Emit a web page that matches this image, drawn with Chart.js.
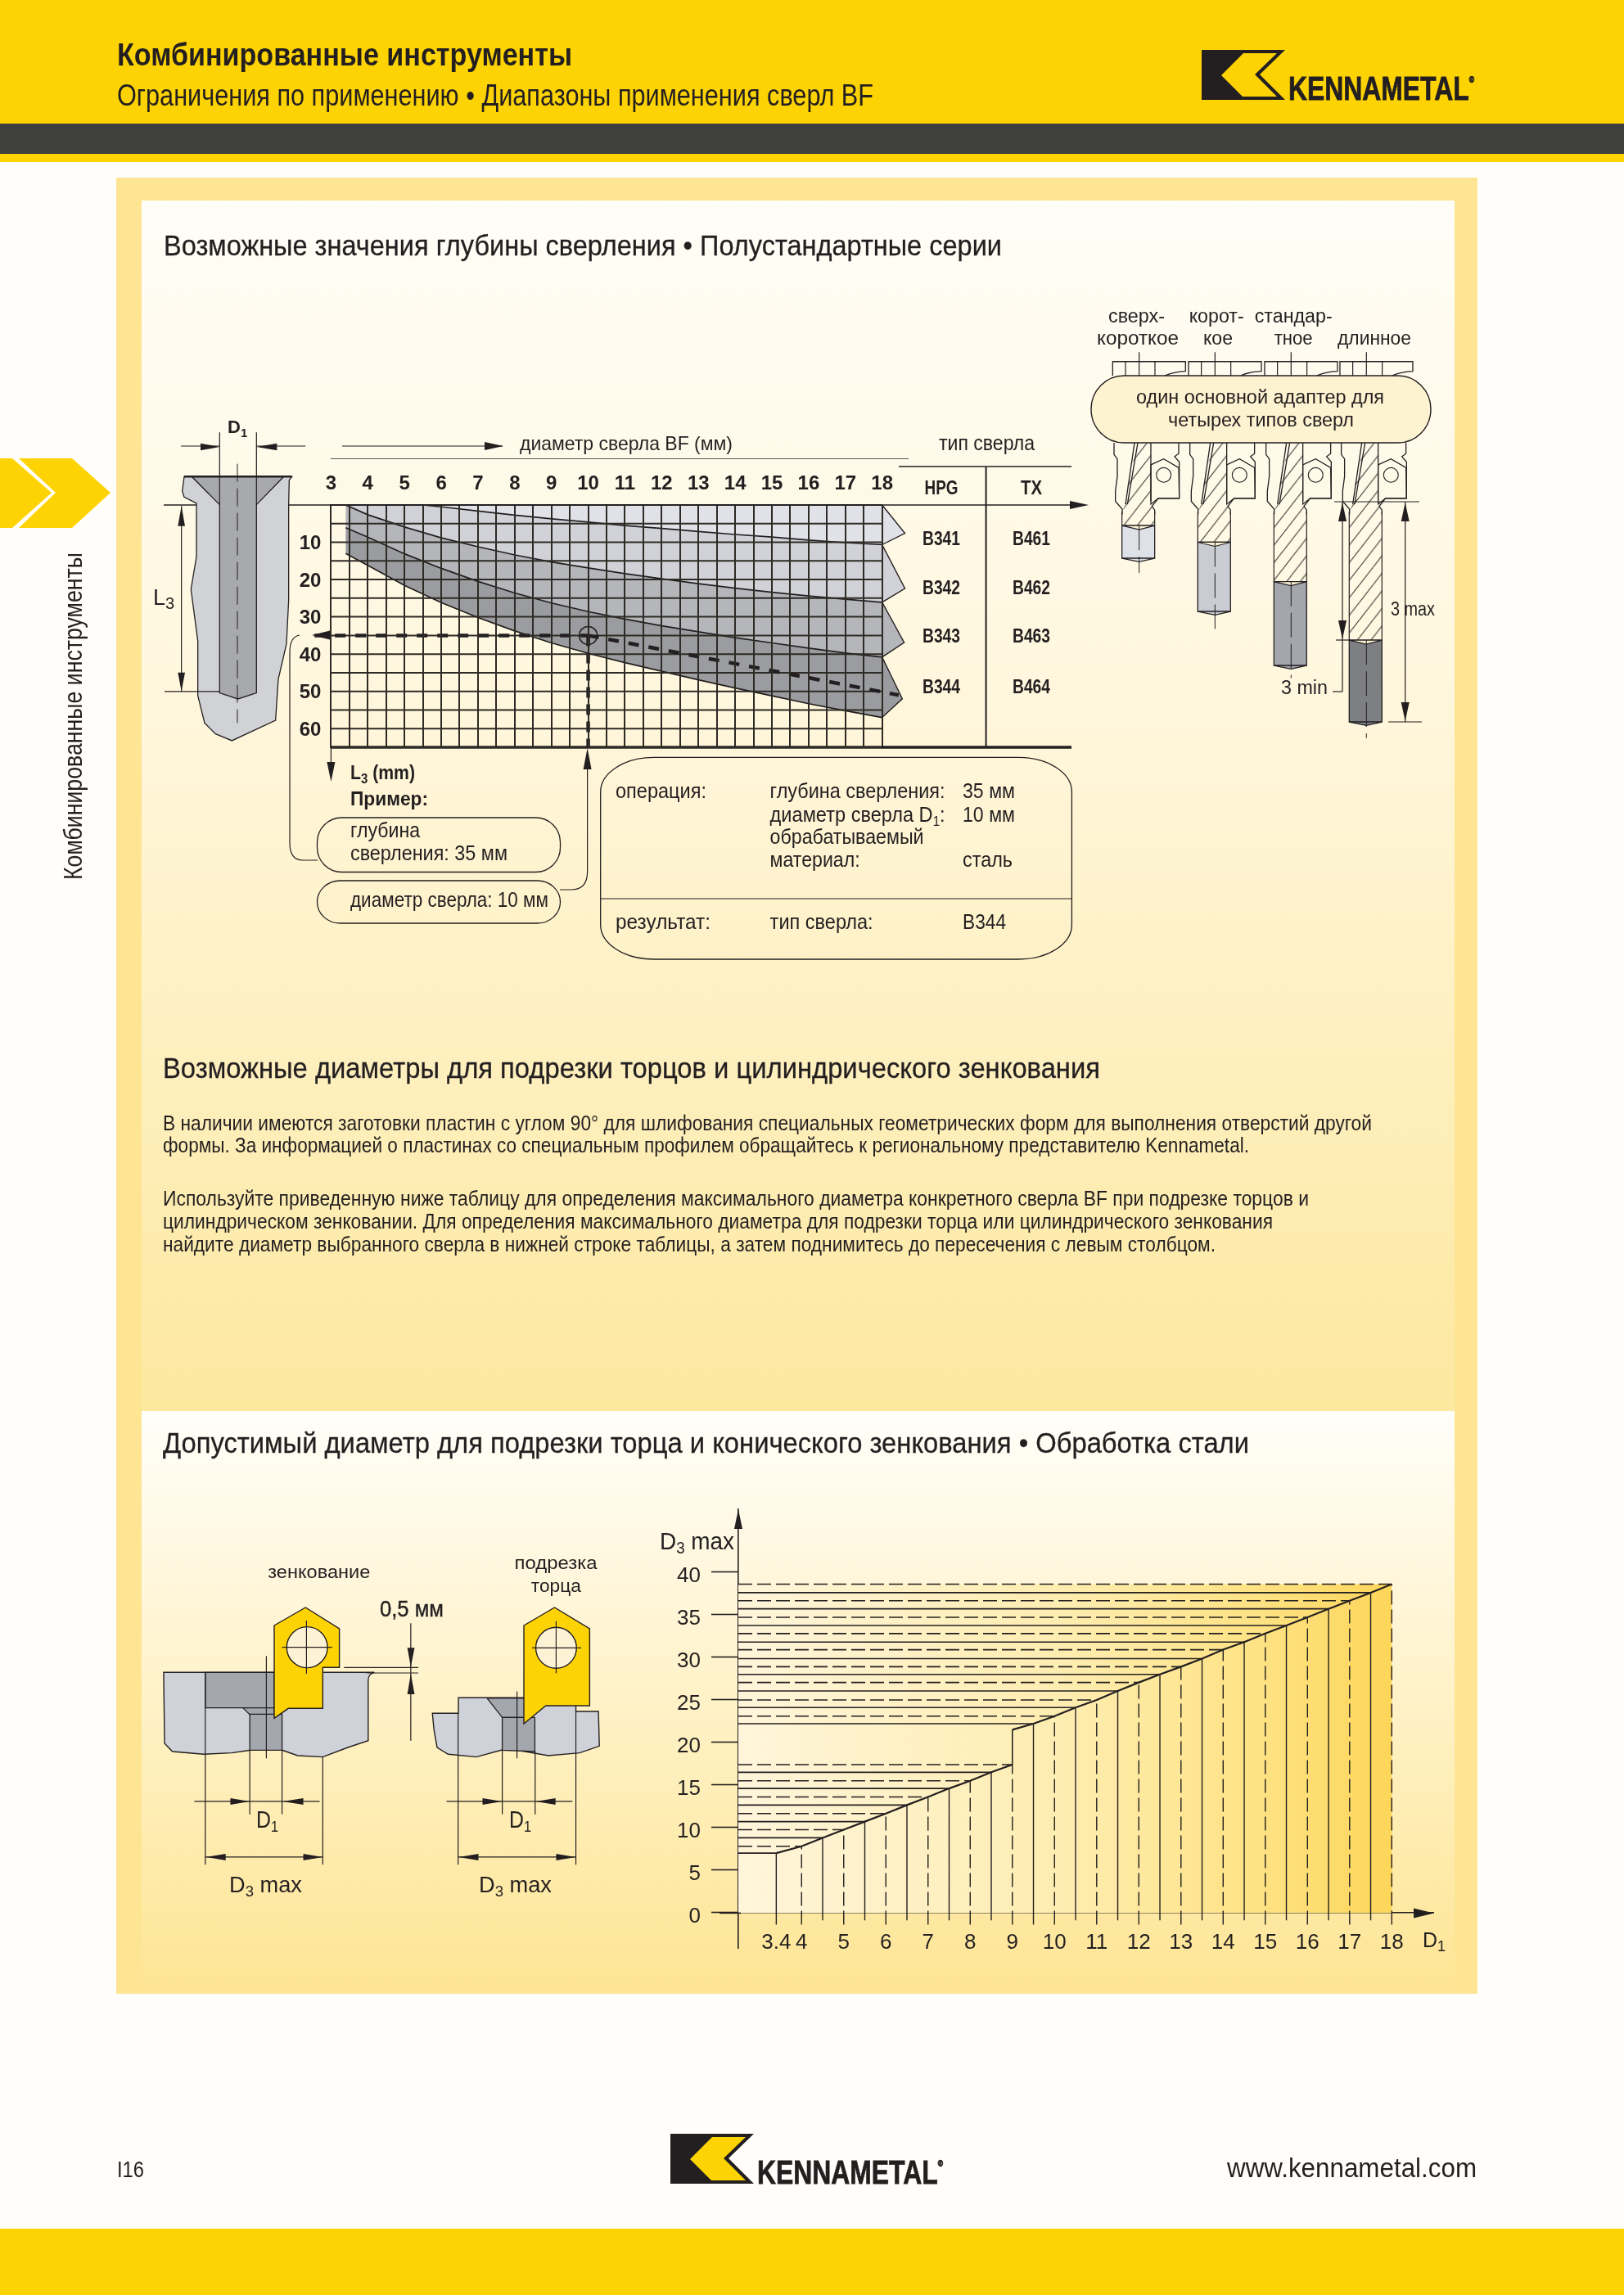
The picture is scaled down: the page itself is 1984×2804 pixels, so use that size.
<!DOCTYPE html>
<html lang="ru">
<head>
<meta charset="utf-8">
<title>Комбинированные инструменты</title>
<script src="https://cdn.jsdelivr.net/npm/chart.js@4"></script>
<style>
  html, body { margin: 0; padding: 0; background: #fff; }
  #page { position: relative; width: 1984px; height: 2804px; overflow: hidden; background: #fffefa; }
  .box { position: absolute; }
  canvas { position: absolute; }
  #art { position: absolute; left: 0; top: 0; }
  #art * { vector-effect: non-scaling-stroke; }
</style>
</head>
<body>
<div id="page">
  <div class="box" style="left:0;top:0;width:1984px;height:198px;background:#fed304"></div>
  <div class="box" style="left:0;top:151px;width:1984px;height:37px;background:#3f3f3e"></div>
  <div class="box" style="left:142px;top:217px;width:1663px;height:2219px;background:#fee594"></div>
  <div class="box" style="left:173px;top:245px;width:1604px;height:1479px;background:linear-gradient(#fffdf7 0%,#fff6da 45%,#fde89f 100%)"></div>
  <div class="box" style="left:173px;top:1724px;width:1604px;height:712px;background:linear-gradient(#fffef9 0%,#fff3cc 45%,#fee594 100%)"></div>
  <div class="box" style="left:0;top:2723px;width:1984px;height:81px;background:#fed304"></div>
  <canvas id="depthChart" width="1000" height="420" style="left:340px;top:560px"></canvas>
  <canvas id="counterChart" width="1000" height="597" style="left:780px;top:1814px"></canvas>
  <svg id="art" width="1984" height="2804" xmlns="http://www.w3.org/2000/svg"></svg>
</div>
<script>
// drill chart
const diameters = [3, 4, 5, 6, 7, 8, 9, 10, 11, 12, 13, 14, 15, 16, 17, 18];
const depthTicks = [0, 5, 10, 15, 20, 25, 30, 35, 40, 45, 50, 55, 60, 65];
const depthLabels = [10, 20, 30, 40, 50, 60];

const limit1Diam = [5.5, 6, 7, 8, 9, 10, 11, 12, 13, 14, 15, 16, 17, 18];
const limit1Depth = [0, 0.5, 1.6, 2.7, 3.7, 4.6, 5.5, 6.3, 7.1, 7.9, 8.6, 9.4, 10.1, 10.65];
const limit2Diam = [3.4, 4, 5, 6, 7, 8, 9, 10, 11, 12, 13, 14, 15, 16, 17, 18];
const limit2Depth = [0, 2.6, 5.9, 8.8, 11.2, 13.4, 15.3, 16.9, 18.4, 19.8, 21.1, 22.3, 23.4, 24.4, 25.3, 26.1];
const limit3Diam = [3.4, 4, 5, 6, 7, 8, 9, 10, 11, 12, 13, 14, 15, 16, 17, 18];
const limit3Depth = [6.1, 8.6, 13.1, 17, 20.5, 23.6, 26.3, 28.6, 30.6, 32.4, 34, 35.6, 37, 38.4, 39.7, 40.8];
const limit4Diam = [3.4, 4, 5, 6, 7, 8, 9, 10, 11, 12, 13, 14, 15, 16, 17, 18];
const limit4Depth = [13, 16.2, 21.6, 26.2, 30.2, 33.8, 37, 39.8, 42.3, 44.6, 46.9, 49.1, 51.2, 53.3, 55.2, 57];
const tipDiam = [18.62, 18.62, 18.6, 18.55];
const tipDepth = [7.6, 22.4, 36.9, 52];
const bandColors = ["#e0e2e7", "#d0d2d7", "#b4b6ba", "#9a9c9f"];

const exampleDiam = 10;
const exampleDepth = 35;
const exampleStartDiam = 2.55;
const exampleEndDiam = 18.45;
const exampleEndDepth = 51;

const hpgTypes = ["B341", "B342", "B343", "B344"];
const txTypes = ["B461", "B462", "B463", "B464"];

// counterbore chart
const d1Low = [3.4, 4, 4.5, 5, 5.5, 6, 6.5, 7, 7.5, 8, 8.5, 9];
const d3Low = [7, 7.8, 8.8, 9.75, 10.7, 11.65, 12.65, 13.6, 14.6, 15.5, 16.5, 17.4];
const d1High = [9, 9.5, 10, 10.5, 11, 11.5, 12, 12.5, 13, 13.5, 14, 14.5, 15, 15.5, 16, 16.5, 17, 17.5, 18];
const d3High = [21.5, 22.2, 23.1, 24.1, 25, 26.05, 27.05, 28, 28.9, 29.85, 30.9, 31.8, 32.8, 33.75, 34.7, 35.7, 36.65, 37.6, 38.6];
const d1Ticks = [3.4, 4, 5, 6, 7, 8, 9, 10, 11, 12, 13, 14, 15, 16, 17, 18];
const d3Ticks = [0, 5, 10, 15, 20, 25, 30, 35, 40];
const d3Minor = [1, 2, 3, 4, 6, 7, 8, 9, 11, 12, 13, 14, 16, 17, 18, 19, 21, 22, 23, 24, 26, 27, 28, 29, 31, 32, 33, 34, 36, 37, 38, 39];

const ink = "#231f20";
const gridInk = "#2e2a25";
const tickFont = { family: "'Liberation Sans'", size: 24, weight: "bold" };

function toPoints(xs, ys) {
  return xs.map((x, i) => ({ x: x, y: ys[i] }));
}

function band(upper, tip, lower, color, order) {
  return {
    data: [...upper, tip, ...lower.slice().reverse()],
    showLine: true,
    fill: "shape",
    backgroundColor: color,
    borderWidth: 0,
    pointRadius: 0,
    order: order,
    clip: false,
  };
}

function thinLine(points, dash, width, order) {
  return {
    data: points,
    showLine: true,
    borderColor: ink,
    borderWidth: width,
    borderDash: dash || [],
    pointRadius: 0,
    fill: false,
    clip: false,
    order: order,
  };
}

const limit1 = toPoints(limit1Diam, limit1Depth);
const limit2 = toPoints(limit2Diam, limit2Depth);
const limit3 = toPoints(limit3Diam, limit3Depth);
const limit4 = toPoints(limit4Diam, limit4Depth);
const tips = toPoints(tipDiam, tipDepth);
const topEnd = { x: 18, y: 0 };

const depthDatasets = [
  thinLine([{ x: exampleDiam, y: exampleDepth }, { x: exampleEndDiam, y: exampleEndDepth }], [13, 12], 4.5, 1),
  thinLine([{ x: exampleStartDiam, y: exampleDepth }, { x: exampleDiam, y: exampleDepth }], [13, 12], 4.5, 1),
  thinLine([{ x: exampleDiam, y: exampleDepth }, { x: exampleDiam, y: depthTicks[depthTicks.length - 1] }], [13, 8], 4.5, 1),
  {
    data: [{ x: exampleDiam, y: exampleDepth }],
    showLine: false,
    pointRadius: 11,
    pointBackgroundColor: "transparent",
    pointBorderColor: ink,
    pointBorderWidth: 1.5,
    order: 1,
  },
];
depthTicks.forEach((v) => {
  const last = v === depthTicks[depthTicks.length - 1];
  const grid = thinLine([{ x: diameters[0], y: v }, { x: diameters[diameters.length - 1], y: v }], null, last ? 3.5 : 2, 2);
  grid.borderColor = gridInk;
  depthDatasets.push(grid);
});
// outlines of the bands with the arrow tips at the right end
depthDatasets.push(thinLine(limit1, null, 1.7, 3));
depthDatasets.push(thinLine(limit2, null, 1.7, 3));
depthDatasets.push(thinLine(limit3, null, 1.7, 3));
depthDatasets.push(thinLine(limit4, null, 1.7, 3));
depthDatasets.push(thinLine([topEnd, tips[0], limit1[limit1.length - 1], tips[1], limit2[limit2.length - 1], tips[2], limit3[limit3.length - 1], tips[3], limit4[limit4.length - 1]], null, 1.4, 3));
depthDatasets.push(band([{ x: limit1Diam[0], y: 0 }, topEnd], tips[0], limit1, bandColors[0], 7));
depthDatasets.push(band([{ x: limit2Diam[0], y: 0 }, ...limit1], tips[1], limit2, bandColors[1], 6));
depthDatasets.push(band(limit2, tips[2], [{ x: limit3Diam[0], y: 0 }, ...limit3], bandColors[2], 5));
depthDatasets.push(band(limit3, tips[3], limit4, bandColors[3], 4));

new Chart("depthChart", {
  type: "scatter",
  data: { datasets: depthDatasets },
  options: {
    responsive: false,
    animation: false,
    events: [],
    devicePixelRatio: 1,
    layout: { padding: { top: 0, left: 0, right: 230.9, bottom: 67 } },
    plugins: { legend: { display: false }, tooltip: { enabled: false } },
    scales: {
      x: {
        type: "linear",
        position: "top",
        min: 3,
        max: 18.7,
        afterBuildTicks: (s) => {
          s.ticks = diameters.flatMap((d, i) => (i === 0 ? [{ value: d }] : [{ value: d - 0.5 }, { value: d }]));
        },
        afterFit: (s) => { s.height = 57; },
        grid: { color: gridInk, lineWidth: 2, drawTicks: false, z: 1 },
        border: { color: ink, width: 1.5 },
        ticks: {
          autoSkip: false,
          maxRotation: 0,
          padding: 11,
          color: ink,
          font: tickFont,
          callback: (v) => (diameters.includes(v) ? String(v) : ""),
        },
      },
      y: {
        type: "linear",
        position: "left",
        reverse: true,
        min: 0,
        max: 65,
        afterBuildTicks: (s) => { s.ticks = depthTicks.map((v) => ({ value: v })); },
        afterFit: (s) => { s.width = 64.4; },
        grid: { drawOnChartArea: false, drawTicks: false },
        border: { color: gridInk, width: 2 },
        ticks: {
          autoSkip: false,
          padding: 12,
          labelOffset: 2,
          color: ink,
          font: tickFont,
          callback: (v) => (depthLabels.includes(v) ? String(v) : ""),
        },
      },
    },
  },
});

const xLeftEnd = 2.5;
const xTop = d1High[d1High.length - 1];
const yTop = d3High[d3High.length - 1];
const tailInt = -1.4;
const tailHalf = -0.9;
const counterDatasets = [];

function addGuides(xs, ys) {
  xs.forEach((x, i) => {
    const dash = Number.isInteger(x) ? [17, 6] : null;
    counterDatasets.push(thinLine([{ x: xLeftEnd, y: ys[i] }, { x: x, y: ys[i] }], dash, 1.6, 3));
    const tail = Number.isInteger(x) || x === xs[0] ? tailInt : tailHalf;
    counterDatasets.push(thinLine([{ x: x, y: tail }, { x: x, y: ys[i] }], dash, 1.4, 3));
  });
}
addGuides(d1Low, d3Low);
addGuides(d1High.slice(1), d3High.slice(1));
counterDatasets.push(thinLine(toPoints(d1Low, d3Low), null, 2.2, 1));
counterDatasets.push(thinLine(toPoints(d1High, d3High), null, 2.2, 1));
counterDatasets.push(thinLine([{ x: d1Low[d1Low.length - 1], y: d3Low[d3Low.length - 1] }, { x: d1High[0], y: d3High[0] }], null, 1.6, 1));
counterDatasets.push({
  data: [{ x: xLeftEnd, y: 0 }, { x: xTop, y: 0 }, { x: xTop, y: yTop }, { x: xLeftEnd, y: yTop }],
  showLine: true,
  fill: "shape",
  borderWidth: 0,
  pointRadius: 0,
  order: 9,
  backgroundColor: (ctx) => {
    const chart = ctx.chart;
    if (!chart.chartArea) return "#fff0c0";
    const sx = chart.scales.x;
    const g = chart.ctx.createLinearGradient(sx.getPixelForValue(xLeftEnd), 0, sx.getPixelForValue(xTop), 0);
    g.addColorStop(0, "#fff5da");
    g.addColorStop(0.5, "#feedb0");
    g.addColorStop(0.8, "#fee283");
    g.addColorStop(1, "#fdd659");
    return g;
  },
});

const d3Range = { min: -4.2, max: 47.4 };

new Chart("counterChart", {
  type: "scatter",
  data: { datasets: counterDatasets },
  options: {
    responsive: false,
    animation: false,
    events: [],
    devicePixelRatio: 1,
    layout: { padding: { top: 30, left: 0, right: 28.2, bottom: 30.4 } },
    plugins: { legend: { display: false }, tooltip: { enabled: false } },
    scales: {
      x: {
        type: "linear",
        position: { y: 0 },
        min: xLeftEnd,
        max: 19,
        afterBuildTicks: (s) => { s.ticks = d1Ticks.map((v) => ({ value: v })); },
        grid: { display: true, drawOnChartArea: false, drawTicks: false },
        border: { color: ink, width: 1.6 },
        ticks: {
          autoSkip: false,
          maxRotation: 0,
          padding: 21,
          color: ink,
          font: { family: "'Liberation Sans'", size: 26 },
          callback: (v) => String(v),
        },
      },
      y: {
        type: "linear",
        position: "left",
        ...d3Range,
        afterBuildTicks: (s) => { s.ticks = d3Ticks.map((v) => ({ value: v })); },
        afterFit: (s) => { s.width = 122; },
        grid: { drawOnChartArea: false, tickLength: 33, tickColor: ink, tickWidth: 1.6 },
        border: { color: ink, width: 1.6 },
        ticks: {
          autoSkip: false,
          padding: 13,
          labelOffset: 5,
          color: ink,
          font: { family: "'Liberation Sans'", size: 26 },
          callback: (v) => String(v),
        },
      },
      yMinor: {
        type: "linear",
        position: "left",
        ...d3Range,
        afterBuildTicks: (s) => { s.ticks = d3Minor.map((v) => ({ value: v })); },
        afterFit: (s) => { s.width = 0; },
        grid: { drawOnChartArea: false, tickLength: 14, tickColor: ink, tickWidth: 1.4 },
        border: { display: false },
        ticks: { autoSkip: false, padding: 0, callback: () => "" },
      },
    },
  },
});

// page decoration: text and technical drawings
const narrow = "'Liberation Sans Narrow','Liberation Sans',sans-serif";
const sans = "'Liberation Sans',sans-serif";

function t(x, y, str, o) {
  o = o || {};
  const len = o.len ? ` textLength="${o.len}" lengthAdjust="spacingAndGlyphs"` : "";
  const rot = o.rot ? ` transform="rotate(${o.rot} ${x} ${y})"` : "";
  const heavy = o.heavy ? ` stroke="${ink}" stroke-width="${o.heavy}"` : "";
  return `<text x="${x}" y="${y}" font-family="${o.family || narrow}" font-size="${o.size || 24}" font-weight="${o.weight || "normal"}" fill="${o.fill || ink}" text-anchor="${o.anchor || "start"}"${heavy}${len}${rot}>${str}</text>`;
}
function sub(n, size) {
  return `<tspan dy="5" font-size="${size || 17}">${n}</tspan>`;
}
function afterSub(str) {
  return `<tspan dy="-5">${str}</tspan>`;
}
function line(x1, y1, x2, y2, w, dash) {
  return `<line x1="${x1}" y1="${y1}" x2="${x2}" y2="${y2}" stroke="${ink}" stroke-width="${w || 1.2}"${dash ? ` stroke-dasharray="${dash}"` : ""}/>`;
}
function poly(pts, fill, stroke, w) {
  return `<polygon points="${pts}" fill="${fill || ink}" stroke="${stroke || "none"}" stroke-width="${w || 1.3}"/>`;
}
function path(d, fill, w) {
  return `<path d="${d}" fill="${fill || "none"}" stroke="${ink}" stroke-width="${w || 1.3}"/>`;
}
function arrow(x, y, dir, len, half) {
  len = len || 23; half = half || 5;
  if (dir === "r") return poly(`${x},${y} ${x - len},${y - half} ${x - len},${y + half}`);
  if (dir === "l") return poly(`${x},${y} ${x + len},${y - half} ${x + len},${y + half}`);
  if (dir === "u") return poly(`${x},${y} ${x - half},${y + len} ${x + half},${y + len}`);
  return poly(`${x},${y} ${x - half},${y - len} ${x + half},${y - len}`);
}
function logo(x, y, kFill) {
  return `<g transform="translate(${x} ${y})">` +
    poly("0,0 102,0 71,30 102,61 0,61") +
    poly("51,4 92,4 65,30 92,57 50,57 24,31", kFill) + `</g>` +
    t(x + 106, y + 61, `KENNAMETAL<tspan font-size="11" dy="-21">®</tspan>`, { weight: "bold", size: 41, len: 227, heavy: 0.8 });
}

let svg = "";
svg += `<defs>
  <pattern id="hatch" width="50" height="60" patternUnits="userSpaceOnUse">
    <path d="M0,60 L50,0 M-50,60 L0,0 M50,60 L100,0" stroke="${ink}" stroke-width="3" fill="none" style="vector-effect:none"/>
  </pattern>
</defs>`;

// header
svg += t(143, 80, "Комбинированные инструменты", { size: 38, weight: "bold", len: 556 });
svg += t(143, 129, "Ограничения по применению • Диапазоны применения сверл BF", { size: 37, len: 924 });
svg += logo(1468, 61, "#fed304");

// side tab
svg += poly("0,560 15,560 63,602 15,645 0,645", "#fed304");
svg += poly("23,560 88,560 135,602 88,645 23,645 68,602", "#fed304");
svg += t(100, 1075, "Комбинированные инструменты", { size: 31, rot: -90, len: 400 });

// section texts
svg += t(200, 312, "Возможные значения глубины сверления • Полустандартные серии", { size: 35, len: 1024, heavy: 0.3 });
svg += t(199, 1317, "Возможные диаметры для подрезки торцов и цилиндрического зенкования", { size: 35, len: 1145, heavy: 0.3 });
svg += t(199, 1381, "В наличии имеются заготовки пластин с углом 90° для шлифования специальных геометрических форм для выполнения отверстий другой", { size: 25, len: 1477 });
svg += t(199, 1408, "формы. За информацией о пластинах со специальным профилем обращайтесь к региональному представителю Kennametal.", { size: 25, len: 1327 });
svg += t(199, 1473, "Используйте приведенную ниже таблицу для определения максимального диаметра конкретного сверла BF при подрезке торцов и", { size: 25, len: 1400 });
svg += t(199, 1501, "цилиндрическом зенковании. Для определения максимального диаметра для подрезки торца или цилиндрического зенкования", { size: 25, len: 1356 });
svg += t(199, 1529, "найдите диаметр выбранного сверла в нижней строке таблицы, а затем поднимитесь до пересечения с левым столбцом.", { size: 25, len: 1286 });
svg += t(199, 1775, "Допустимый диаметр для подрезки торца и конического зенкования • Обработка стали", { size: 35, len: 1327, heavy: 0.3 });

// footer
svg += t(143, 2660, "I16", { size: 27, len: 33 });
svg += logo(819, 2607, "#fed304");
svg += t(1804, 2660, "www.kennametal.com", { size: 34, anchor: "end", len: 305 });

// chart 1 surroundings
svg += t(278, 529, `D${sub(1, 15)}`, { family: sans, weight: "bold", size: 22 });
svg += line(418, 545, 614, 545) + arrow(615, 545, "r");
svg += t(635, 550, "диаметр сверла BF (мм)", { len: 260, size: 24 });
svg += t(1147, 550, "тип сверла", { len: 117, size: 25 });
svg += line(1098, 570, 1309, 570, 1.6) + line(1204.6, 570, 1204.6, 913, 2);
svg += line(1077, 913, 1309, 913, 3.5);
svg += line(200, 617, 1310, 617, 1.4) + arrow(1330, 617, "r");
svg += line(404.4, 911, 404.4, 935) + arrow(404.4, 955, "d", 24, 5);
svg += t(1150, 604, "HPG", { weight: "bold", size: 24, anchor: "middle", len: 41 });
svg += t(1260, 604, "TX", { weight: "bold", size: 24, anchor: "middle", len: 26 });
const rowY = [666, 726, 785, 847];
hpgTypes.forEach((name, i) => {
  svg += t(1150, rowY[i], name, { weight: "bold", size: 24, anchor: "middle", len: 46 });
  svg += t(1260, rowY[i], txTypes[i], { weight: "bold", size: 24, anchor: "middle", len: 46 });
});

// hole section, coordinates from a 3x grid
svg += `<g transform="translate(200 520) scale(0.3333)">`;
svg += path("M75,187 H470 L460,200 L458,290 V640 L450,800 L420,930 L410,1080 L250,1155 L190,1130 L150,1090 L125,990 V790 L100,600 L120,480 V285 L75,262 L68,240 Z", "#d0d2d6", 1.3);
svg += poly("103,187 440,187 340,290 340,980 272,1002 205,980 205,290", "#a7a9ad", ink, 1.3);
svg += line(75, 187, 470, 187, 2.5);
svg += line(270, 140, 270, 1090, 1, "22 8");
svg += line(205, 25, 205, 290) + line(340, 25, 340, 290);
svg += line(63, 75, 205, 75) + line(340, 75, 520, 75);
svg += poly("205,78 135,65 135,91") + poly("340,78 415,65 415,91");
svg += line(3, 975, 205, 975) + line(65, 295, 65, 975);
svg += poly("65,295 52,368 78,368") + poly("65,975 52,905 78,905");
svg += `</g>`;
svg += t(187, 739, `L${sub(3, 20)}`, { family: sans, size: 27 });

svg += arrow(381, 776, "l", 22, 5.5);
svg += path("M366,776 Q354,778 354,797 V1030 Q354,1051 370,1051 H388", "none", 1.2);
svg += arrow(717.6, 914, "u", 26, 5);
svg += path("M717.6,935 V1065 Q717.6,1087 698,1087 H684", "none", 1.2);
svg += t(428, 952, `L${sub(3)}${afterSub(" (mm)")}`, { weight: "bold", size: 24, len: 79 });
svg += t(428, 984, "Пример:", { weight: "bold", size: 24, family: sans, len: 95 });

svg += `<rect x="387.5" y="999" width="297" height="66.5" rx="30" ry="30" fill="none" stroke="${ink}" stroke-width="1.3"/>`;
svg += t(428, 1023, "глубина", { size: 25, len: 85 });
svg += t(428, 1051, "сверления: 35 мм", { size: 25, len: 192 });
svg += `<rect x="387.5" y="1076" width="297" height="52" rx="28" ry="26" fill="none" stroke="${ink}" stroke-width="1.3"/>`;
svg += t(428, 1108, "диаметр сверла: 10 мм", { size: 25, len: 242 });

svg += `<rect x="733.7" y="925.4" width="575.7" height="246.6" rx="65" ry="42" fill="none" stroke="${ink}" stroke-width="1.3"/>`;
svg += line(733.7, 1098, 1309.4, 1098);
svg += t(752, 975, "операция:", { size: 25, len: 111 });
svg += t(940.6, 975, "глубина сверления:", { size: 25, len: 214 });
svg += t(1176, 975, "35 мм", { size: 25, len: 64 });
svg += t(940.6, 1003.6, `диаметр сверла D${sub(1, 16)}${afterSub(":")}`, { size: 25, len: 214 });
svg += t(1176, 1003.6, "10 мм", { size: 25, len: 64 });
svg += t(940.6, 1031, "обрабатываемый", { size: 25, len: 188 });
svg += t(940.6, 1059, "материал:", { size: 25, len: 110 });
svg += t(1176, 1059, "сталь", { size: 25, len: 61 });
svg += t(752, 1135, "результат:", { size: 25, len: 116 });
svg += t(940.6, 1135, "тип сверла:", { size: 25, len: 126 });
svg += t(1176, 1135, "B344", { size: 25, len: 53 });

// tool length drawing, coordinates from a 3x / 2.8x grid
const toolCenters = [275, 553, 832, 1108];
const hatchEnds = [818, 875, 1010, 1210];
const solidEnds = [930, 1112, 1297, 1490];
const centerEnds = [980, 1175, 1340, 1545];
const toolFills = ["#dfe1e8", "#c9ccd3", "#a3a6ac", "#7d7f83"];
svg += `<g transform="translate(1300 350) scale(0.3333 0.3571)">`;
toolCenters.forEach((c, i) => {
  const dx = c - 275;
  svg += `<g transform="translate(${dx} 0)">`;
  svg += path("M178,305 V257 H445 V290 Q400,292 370,305");
  svg += line(225, 257, 225, 305) + line(333, 257, 333, 305) + line(275, 225, 275, 305);
  svg += path("M183,535 V575 L195,590 V650 L188,700 V735 L213,762 V780");
  svg += path("M332,780 V765 L322,752 L345,725 H422 V600 L405,582 L420,572 V535");
  svg += poly("318,610 365,590 420,620 422,725 345,725 318,745", "transparent", ink, 1.2);
  svg += `<ellipse cx="365" cy="645" rx="27" ry="25" fill="none" stroke="${ink}" stroke-width="1.1"/>`;
  svg += path("M258,535 L225,745 M270,535 L232,745 M318,535 V735");
  svg += poly(`238,640 275,535 318,535 318,745 332,770 332,${hatchEnds[i]} 212,${hatchEnds[i]} 212,770 225,745`, "url(#hatch)");
  svg += `<rect x="212" y="${hatchEnds[i]}" width="120" height="${solidEnds[i] - hatchEnds[i]}" fill="${toolFills[i]}" stroke="${ink}" stroke-width="1.3"/>`;
  svg += poly(`212,${hatchEnds[i]} 275,${hatchEnds[i] + 14} 332,${hatchEnds[i]}`, "#fdf3d4", ink, 1.2);
  svg += poly(`212,${solidEnds[i]} 275,${solidEnds[i] + 12} 332,${solidEnds[i]}`, toolFills[i], ink, 1.2);
  svg += line(212, 770, 212, hatchEnds[i]) + line(332, 770, 332, hatchEnds[i]);
  svg += line(275, hatchEnds[i], 275, centerEnds[i], 1, "30 8");
  svg += `</g>`;
});
svg += `</g>`;
svg += `<rect x="1333" y="459" width="415" height="82" rx="40" ry="41" fill="#fef3d0" stroke="${ink}" stroke-width="1.4"/>`;
const toolWords = [["сверх-", 1354, 69, "короткое", 1340, 100], ["корот-", 1452.7, 67, "кое", 1470, 36], ["стандар-", 1532.7, 95, "тное", 1556.7, 47], ["", 0, 0, "длинное", 1634, 90]];
toolWords.forEach((w) => {
  if (w[0]) svg += t(w[1], 393.6, w[0], { family: sans, size: 23, len: w[2] });
  svg += t(w[4], 421.4, w[3], { family: sans, size: 23, len: w[5] });
});
svg += t(1388, 493, "один основной адаптер для", { family: sans, size: 23, len: 303 });
svg += t(1427, 520.7, "четырех типов сверл", { family: sans, size: 23, len: 227 });
svg += line(1630, 613, 1734, 613, 1.2) + line(1632, 782, 1650, 782) + line(1696, 882, 1737, 882);
svg += line(1716.7, 613, 1716.7, 882) + arrow(1716.7, 614, "u", 23, 5) + arrow(1716.7, 881, "d", 23, 5);
svg += line(1640, 613, 1640, 845) + line(1640, 845, 1628, 845) + arrow(1640, 614, "u", 23, 5) + arrow(1640, 781, "d", 23, 5);
svg += t(1699, 752, "3 max", { family: sans, size: 23, len: 54 });
svg += t(1565, 848, "3 min", { family: sans, size: 23, len: 57 });

// countersink sections
svg += `<g transform="translate(180 1860) scale(0.3827 0.3333)">`;
svg += path("M52,550 H725 Q705,555 705,580 V800 L640,825 L560,860 L480,855 L430,835 H330 L270,845 L180,850 L80,840 L55,810 Z", "#cfd2d8", 1.4);
svg += poly("185,550 405,550 405,680 185,680", "#a4a7ad", ink, 1.3);
svg += poly("305,680 405,680 405,705 327,705", "#a4a7ad", ink, 1.2);
svg += poly("327,703 430,703 430,835 327,835", "#a4a7ad", ink, 1.3);
svg += poly("405,378 505,312 613,390 613,532 560,532 560,682 450,682 405,718", "#fed304", ink, 1.4);
svg += `<ellipse cx="510" cy="458" rx="65" ry="75" fill="#fdf3d4" stroke="${ink}" stroke-width="1.4"/>`;
svg += line(430, 458, 590, 458) + line(508, 360, 508, 555) + line(380, 490, 380, 865);
svg += line(185, 550, 185, 1255) + line(560, 860, 560, 1255) + line(327, 835, 327, 1070) + line(430, 835, 430, 1070);
svg += line(150, 1023, 550, 1023) + line(185, 1227, 560, 1227);
svg += poly("327,1023 265,1011 265,1035") + poly("432,1023 498,1011 498,1035");
svg += poly("187,1227 250,1215 250,1239") + poly("560,1227 498,1215 498,1239");
svg += line(628, 532, 865, 532) + line(700, 552, 865, 552) + line(841, 370, 841, 800);
svg += poly("841,530 830,460 853,460") + poly("841,555 830,630 853,630");
svg += path("M910,700 H993 V643 H1368 V693 H1440 L1443,820 L1380,845 L1280,855 L1180,835 H1130 L1050,860 L960,850 L925,825 L915,760 Z", "#cfd2d8", 1.4);
svg += poly("1085,645 1205,645 1205,715 1133,715", "#a4a7ad", ink, 1.2);
svg += poly("1133,715 1237,715 1237,840 1133,835", "#a4a7ad", ink, 1.3);
svg += poly("1202,378 1300,312 1412,390 1412,672 1272,672 1202,738", "#fed304", ink, 1.4);
svg += `<ellipse cx="1305" cy="460" rx="65" ry="75" fill="#fdf3d4" stroke="${ink}" stroke-width="1.4"/>`;
svg += line(1228, 460, 1385, 460) + line(1305, 362, 1305, 553) + line(1180, 620, 1180, 865);
svg += line(992, 700, 992, 1255) + line(1368, 690, 1368, 1255) + line(1133, 835, 1133, 1070) + line(1238, 840, 1238, 1070);
svg += line(955, 1023, 1357, 1023) + line(992, 1227, 1368, 1227);
svg += poly("1133,1023 1070,1011 1070,1035") + poly("1240,1023 1303,1011 1303,1035");
svg += poly("994,1227 1057,1215 1057,1239") + poly("1368,1227 1305,1215 1305,1239");
svg += `</g>`;
svg += t(327.3, 1928, "зенкование", { family: sans, size: 22, len: 125 });
svg += t(628.5, 1917, "подрезка", { family: sans, size: 22, len: 101 });
svg += t(648.8, 1945, "торца", { family: sans, size: 22, len: 61 });
svg += t(464, 1975, "0,5 мм", { family: sans, size: 27, len: 78, heavy: 0.4 });
svg += t(313, 2233, `D${sub(1, 19)}`, { family: sans, size: 29, len: 27 });
svg += t(622, 2233, `D${sub(1, 19)}`, { family: sans, size: 29, len: 27 });
svg += t(280, 2311.7, `D${sub(3, 19)}${afterSub(" max")}`, { family: sans, size: 28, len: 89 });
svg += t(585, 2311.7, `D${sub(3, 19)}${afterSub(" max")}`, { family: sans, size: 28, len: 89 });

// chart 2 surroundings
svg += t(806, 1893, `D${sub(3, 20)}${afterSub(" max")}`, { size: 30, len: 91 });
svg += line(879, 2337.4, 905, 2337.4, 1.6);
svg += arrow(902, 1844, "u", 24, 5);
svg += arrow(1752, 2337.4, "r", 25, 6);
svg += t(1738, 2379, `D${sub(1, 18)}`, { family: sans, size: 25 });

document.getElementById("art").innerHTML = svg;
</script>
</body>
</html>
